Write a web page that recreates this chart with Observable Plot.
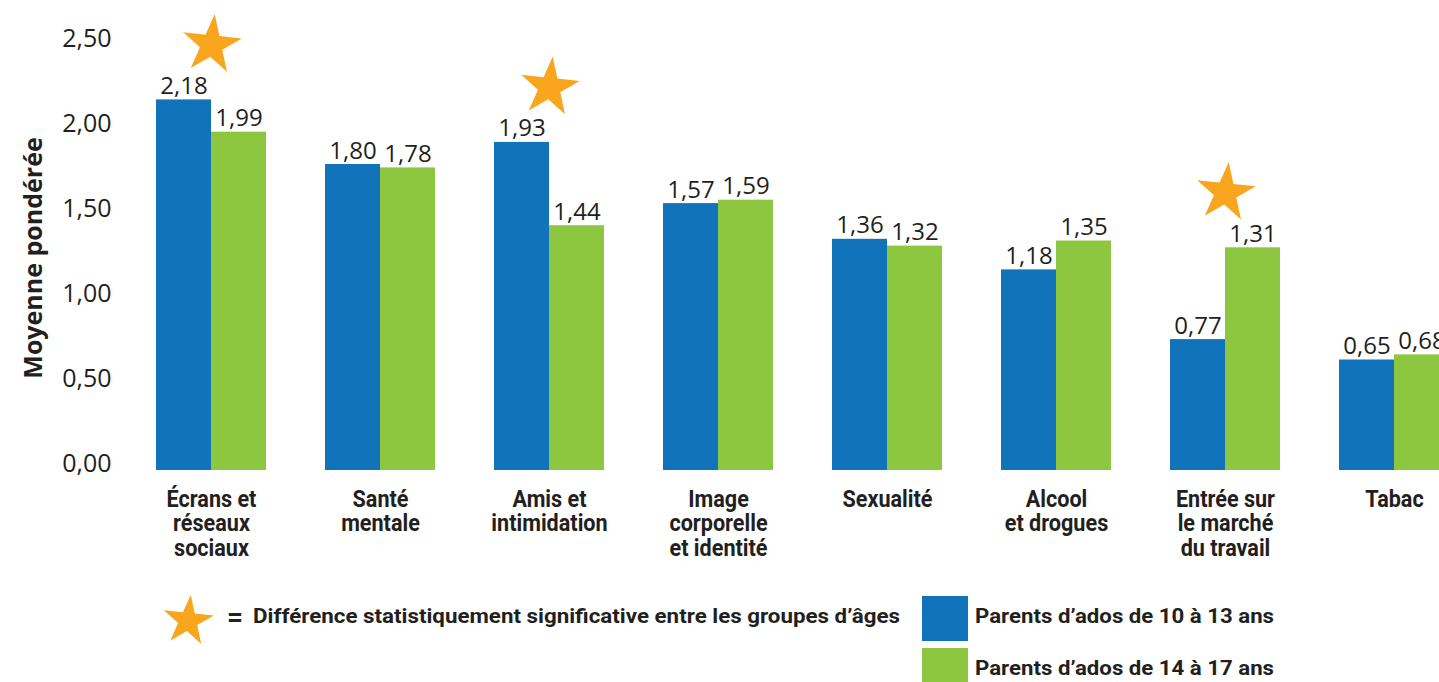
<!DOCTYPE html>
<html><head><meta charset="utf-8">
<script src="https://cdn.jsdelivr.net/npm/d3@7"></script>
<script src="https://cdn.jsdelivr.net/npm/@observablehq/plot@0.6"></script>
<style>
html,body{margin:0;padding:0;background:#fff;overflow:hidden;width:1439px;height:682px;}
#chart svg{display:block;overflow:hidden;}
#legend svg{display:block;}
</style></head><body>
<div id="chart"></div>
<div id="legend"></div>
<script>
const categories = ["Écrans et\nréseaux\nsociaux", "Santé\nmentale", "Amis et\nintimidation", "Image\ncorporelle\net identité", "Sexualité", "Alcool\net drogues", "Entrée sur\nle marché\ndu travail", "Tabac"];
const series = ["Parents d’ados de 10 à 13 ans", "Parents d’ados de 14 à 17 ans"];
const values10to13 = [2.18, 1.80, 1.93, 1.57, 1.36, 1.18, 0.77, 0.65];
const values14to17 = [1.99, 1.78, 1.44, 1.59, 1.32, 1.35, 1.31, 0.68];
const significant = [true, false, true, false, false, false, true, false];
const yTicks = [0, 0.5, 1, 1.5, 2, 2.5];
const yLabel = "Moyenne pondérée";
const starNote = "Différence statistiquement significative entre les groupes d’âges";
const colors = ["#1174bb", "#8dc63f"];
const starColor = "#f9a51e";
const ink = "#231f20";

const fmt = v => v.toFixed(2).replace(".", ",");
const rows = categories.map((c, i) => ({
  category: c, a: values10to13[i], b: values14to17[i], sig: significant[i],
  top: Math.max(values10to13[i], values14to17[i])
}));

const W = 1439, H = 585;
const xRange = [154.3, 1449.7], padIn = 0.3504;
const step = (xRange[1] - xRange[0]) / (categories.length - padIn);
const half = step * (1 - padIn) / 2;

const chart = Plot.plot({
  width: W, height: H, marginTop: 45, marginBottom: 115, marginLeft: 120, marginRight: 0,
  style: {background: "#fff", color: ink, fontFamily: "'Open Sans', sans-serif", overflow: "hidden"},
  x: {domain: categories, range: xRange, paddingInner: padIn, paddingOuter: 0, axis: null},
  y: {domain: [0, 2.5], axis: null},
  marks: [
    Plot.axisY({ticks: yTicks, tickFormat: fmt, tickSize: 0, tickPadding: 9, dy: -7, fontSize: 25,
      label: yLabel, labelAnchor: "center", labelOffset: 96, labelArrow: false}),
    Plot.barY(rows, {x: "category", y: "a", fill: colors[0], insetRight: half, insetLeft: 0}),
    Plot.barY(rows, {x: "category", y: "b", fill: colors[1], insetLeft: half, insetRight: 0}),
    Plot.text(rows, {x: "category", y: "a", text: d => fmt(d.a), dx: -half / 2, lineAnchor: "bottom", dy: -6, fontSize: 24, fill: ink}),
    Plot.text(rows, {x: "category", y: "b", text: d => fmt(d.b), dx: half / 2, lineAnchor: "bottom", dy: -6, fontSize: 24, fill: ink}),
    Plot.text(rows, {x: "category", frameAnchor: "bottom", text: "category", lineAnchor: "top", dy: 19,
      lineHeight: 1.02, fontSize: 24, fontWeight: "bold", fontFamily: "Roboto, sans-serif", fill: ink,
      ariaDescription: "category labels"}),
    Plot.dot(rows.filter(d => d.sig), {x: "category", y: "top", symbol: "star", r: 18.5, fill: starColor,
      stroke: "none", dy: -55, rotate: 6})
  ]
});
document.getElementById("chart").appendChild(chart);

const svg = d3.select(chart);
svg.selectAll('g[aria-description="category labels"] text').each(function () {
  this.setAttribute("transform", (this.getAttribute("transform") || "") + " scale(0.9,1)");
});
svg.selectAll('g[aria-label="y-axis label"] text')
  .attr("font-weight", "bold").attr("font-size", 25).attr("fill", ink);

// Legend (below the plot)
const L = d3.select("#legend").append("svg").attr("width", W).attr("height", 682 - H)
  .style("font-family", "Roboto, sans-serif").style("font-weight", "bold");
L.append("path").attr("d", d3.symbol(d3.symbolStar, 788)())
  .attr("transform", "translate(188,36) rotate(6)").attr("fill", starColor);
L.append("text").attr("x", 227).attr("y", 31).attr("dy", "0.35em").attr("font-size", 28).attr("fill", ink).text("=");
L.append("text").attr("x", 253).attr("y", 31).attr("dy", "0.35em").attr("font-size", 21).attr("fill", ink)
  .attr("textLength", 647).attr("lengthAdjust", "spacingAndGlyphs").text(starNote);
series.forEach((s, i) => {
  L.append("rect").attr("x", 922).attr("y", 11 + i * 52).attr("width", 46).attr("height", 45).attr("fill", colors[i]);
  L.append("text").attr("x", 975).attr("y", 31 + i * 52).attr("dy", "0.35em").attr("font-size", 21).attr("fill", ink)
    .attr("textLength", 299).attr("lengthAdjust", "spacingAndGlyphs").text(s);
});
</script>
</body></html>
